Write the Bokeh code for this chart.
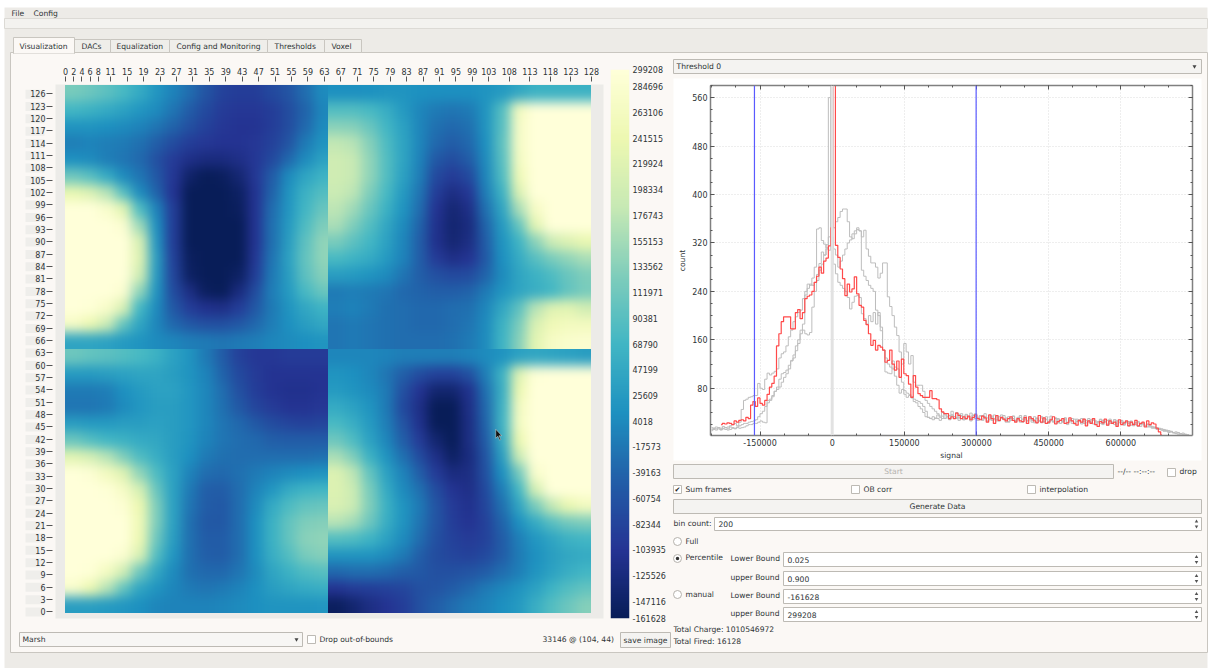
import numpy as np
from bokeh.core.properties import value
from bokeh.embed import file_html
from bokeh.layouts import column
from bokeh.models import (FixedTicker, LinearAxis, LinearColorMapper, NumeralTickFormatter,
                          SingleIntervalTicker, Span)
from bokeh.palettes import YlGnBu
from bokeh.plotting import figure
from bokeh.resources import INLINE

FONT = "DejaVu Sans"
BG_OUT = "#edebe7"
BG_PANEL = "#fbf8f5"
TXT = "#2e3436"
ALIGN = 40  # every plot keeps this left inset, so all frames line up the same way

# ---- data ------------------------------------------------------------------
LOWER = -161628
UPPER = 299208
COLORBAR_TICKS = [299208, 284696, 263106, 241515, 219924, 198334, 176743, 155153, 133562,
                  111971, 90381, 68790, 47199, 25609, 4018, -17573, -39163, -60754, -82344,
                  -103935, -125526, -147116, -161628]
X_TICKS = [0, 2, 4, 6, 8, 11, 15, 19, 23, 27, 31, 35, 39, 43, 47, 51, 55, 59, 63, 67, 71, 75, 79,
           83, 87, 91, 95, 99, 103, 108, 113, 118, 123, 128]
Y_TICKS = list(range(0, 127, 3))

# thousands of counts, rows listed from the top of each quadrant
Q_TL = [
 [120,110,95,75,50,20,-5,-30,-60,-85,-90,-90,-75,-60,-30,5],
 [70,60,50,35,20,5,-20,-50,-75,-95,-100,-100,-90,-70,-40,0],
 [15,15,10,5,-5,-20,-40,-65,-85,-100,-105,-105,-90,-70,-35,5],
 [-10,-5,-10,-15,-25,-45,-70,-90,-100,-105,-105,-100,-85,-60,-15,15],
 [10,5,-10,-20,-35,-65,-95,-115,-125,-125,-115,-100,-75,-35,5,35],
 [110,90,50,5,-20,-55,-100,-145,-160,-155,-135,-100,-50,5,40,65],
 [235,215,170,90,5,-40,-105,-160,-162,-162,-150,-105,-40,15,60,85],
 [305,300,280,225,80,-5,-90,-160,-162,-162,-155,-105,-30,20,70,105],
 [310,310,305,285,150,10,-90,-160,-162,-162,-160,-105,-25,25,80,125],
 [310,310,310,300,210,20,-90,-160,-162,-162,-160,-105,-25,30,95,140],
 [310,310,310,305,220,30,-85,-155,-162,-162,-160,-100,-20,35,100,140],
 [310,310,310,300,200,25,-80,-150,-162,-162,-150,-90,-15,30,95,130],
 [310,310,305,285,140,15,-70,-120,-155,-160,-125,-70,-10,25,75,105],
 [300,295,275,210,70,5,-55,-90,-110,-115,-90,-55,-15,15,45,65],
 [270,240,190,100,40,0,-35,-55,-65,-65,-55,-35,-10,10,30,45],
 [40,40,35,25,15,5,0,-10,-15,-20,-15,-10,0,5,10,15],
]
Q_TR = [
 [10,10,12,15,15,12,10,10,10,15,25,45,60,60,60,60],
 [85,85,75,55,25,0,-15,-20,-15,15,85,260,300,310,310,310],
 [135,130,105,70,35,0,-25,-35,-25,15,90,270,310,310,310,310],
 [180,170,130,80,40,0,-35,-50,-35,10,95,270,310,310,310,310],
 [195,185,140,85,40,-5,-55,-70,-50,5,90,265,310,310,310,310],
 [195,185,140,85,35,-10,-75,-95,-75,0,80,250,310,310,310,310],
 [190,175,125,75,25,-20,-90,-120,-100,-10,60,215,305,310,310,310],
 [175,150,105,60,15,-30,-105,-135,-115,-25,40,160,270,310,310,310],
 [160,125,85,45,5,-40,-110,-140,-125,-40,25,100,225,305,310,310],
 [120,95,70,35,0,-45,-110,-135,-120,-50,15,65,135,190,215,235],
 [75,65,50,25,-5,-45,-95,-115,-105,-55,10,50,90,120,140,160],
 [30,25,15,5,-20,-45,-65,-75,-70,-40,5,40,60,80,105,125],
 [-15,-10,-15,-20,-35,-40,-45,-45,-40,-15,15,40,55,70,100,120],
 [-10,-5,-15,-25,-30,-35,-35,-30,-25,0,45,95,170,220,225,200],
 [-20,-15,-20,-25,-30,-35,-35,-30,-20,5,60,120,210,250,260,260],
 [-20,-15,-20,-25,-30,-30,-30,-25,-15,5,65,130,225,270,280,285],
]
Q_BL = [
 [110,100,95,85,75,60,35,15,-15,-50,-85,-100,-100,-95,-95,-95],
 [25,25,30,35,40,40,30,15,-5,-40,-75,-95,-105,-105,-105,-105],
 [-15,-15,-10,10,25,35,35,20,0,-30,-65,-90,-105,-110,-110,-105],
 [-20,-20,-15,5,20,30,30,20,0,-25,-55,-80,-95,-105,-105,-100],
 [30,25,25,30,30,35,30,20,0,-20,-35,-55,-70,-80,-85,-80],
 [105,85,70,60,50,45,30,15,-5,-20,-30,-35,-45,-50,-50,-50],
 [225,205,170,125,80,55,30,10,-15,-25,-30,-30,-30,-30,-30,-25],
 [305,290,260,220,140,80,35,-5,-30,-35,-25,-15,-5,5,10,15],
 [310,310,295,270,205,105,35,-15,-45,-50,-30,-5,20,50,65,70],
 [310,310,305,290,240,125,35,-20,-50,-55,-30,5,50,80,100,105],
 [310,310,310,300,250,125,35,-25,-55,-55,-30,10,60,100,125,130],
 [310,310,310,300,245,110,30,-25,-50,-50,-30,10,60,100,135,140],
 [310,310,305,285,210,85,20,-25,-45,-50,-30,10,55,85,120,130],
 [305,295,265,200,110,45,5,-25,-35,-35,-20,5,40,60,80,90],
 [280,240,170,100,40,15,0,-15,-20,-15,-5,10,30,40,50,55],
 [30,30,25,20,10,0,-5,-5,-5,0,5,10,15,15,15,20],
]
Q_BR = [
 [0,0,0,-5,-10,-10,-10,-10,-5,5,15,35,45,40,35,30],
 [15,10,0,-20,-45,-70,-85,-85,-65,-10,60,220,295,310,310,310],
 [25,15,5,-15,-65,-105,-140,-140,-110,-25,55,240,310,310,310,310],
 [50,35,15,-15,-75,-115,-160,-160,-115,-35,60,260,310,310,310,310],
 [75,55,25,-10,-60,-110,-160,-162,-120,-40,65,265,310,310,310,310],
 [110,80,35,0,-45,-95,-140,-160,-120,-50,50,240,310,310,310,310],
 [160,125,60,15,-25,-70,-115,-150,-125,-60,30,190,310,310,310,310],
 [215,175,100,35,-5,-45,-95,-125,-120,-65,10,115,280,310,310,310],
 [215,190,120,50,5,-25,-70,-105,-115,-75,-10,70,205,300,310,310],
 [210,190,125,60,15,-15,-60,-95,-110,-80,-25,40,120,180,235,260],
 [170,155,110,55,15,-20,-60,-90,-105,-85,-40,10,50,90,115,125],
 [85,80,65,35,5,-30,-65,-85,-95,-85,-50,-10,20,40,60,70],
 [15,15,15,5,-15,-45,-70,-80,-85,-75,-50,-15,10,30,45,50],
 [-35,-30,-30,-35,-45,-55,-65,-65,-60,-50,-30,-10,15,35,55,70],
 [-105,-95,-90,-85,-80,-65,-60,-50,-35,-15,0,15,35,65,85,100],
 [-155,-140,-120,-105,-90,-65,-45,-30,-15,-5,10,25,55,85,110,130],
]

BIN_LEFT = -253000
BIN_WIDTH = 4900
RED_FIRST_BIN = 4
RED = [20,22,21,23,22,20,26,24,27,28,26,32,30,52,58,50,64,55,52,60,70,82,88,100,150,170,190,198,198,198,
       178,178,205,210,195,205,228,232,234,240,255,265,280,270,290,295,315,345,600,
       316,296,277,261,233,252,239,244,264,236,217,214,192,185,170,151,159,143,151,148,143,123,126,143,120,
       110,125,98,128,104,101,87,65,101,82,71,68,65,65,65,76,63,63,61,46,41,38,38,30,33,30,39,35,30,
       33,30,34,28,32,36,30,28,34,31,24,36,30,22,35,27,32,29,26,30,33,27,24,30,26,25,32,22,33,30,26,23,35,24,
       31,22,24,28,33,21,25,27,30,22,23,31,26,22,19,27,24,29,18,26,22,30,20,17,25,23,29,19,26,22,24,17,28,20,
       23,26,18,24,20,27,18,22,24,16,26,20,23,21,14,8,3]
GRAY_A = [15,14,16,15,14,17,15,16,18,20,22,18,24,45,60,62,65,66,68,68,88,80,78,95,105,102,105,108,112,130,
          137,140,150,165,176,190,198,205,209,228,240,252,250,262,280,343,345,324,318,312,308,600,
          285,269,255,250,245,240,230,211,222,232,233,230,203,195,186,200,190,205,186,205,175,143,107,105,
          104,125,100,85,72,78,70,65,68,64,62,60,58,55,50,42,32,30,33,30,
          36,32,30,38,34,29,36,33,40,31,35,28,37,33,30,36,38,31,29,35,33,27,34,31,28,33,26,30,35,29,
          24,31,34,27,29,32,25,30,27,33,24,28,31,26,23,29,33,25,27,24,30,28,22,26,31,24,27,22,29,25,
          28,21,26,24,30,23,27,20,25,28,22,26,21,29,24,20,26,23,27,19,24,22,26,18,23,25,20,22,17,21,
          18,15,16,13,14,11,12,9,10,8,7,8,6,5,6,4,3,2]
GRAY_B = [12,14,13,15,12,14,15,13,16,15,14,16,18,20,22,22,24,25,26,28,33,38,42,50,60,62,68,75,82,95,
          104,106,110,118,125,130,142,154,170,186,234,245,252,250,255,268,286,305,300,310,560,330,
          310,300,280,290,300,310,320,325,335,340,342,340,275,265,258,250,245,240,209,200,181,143,130,120,
          115,112,115,112,98,90,76,72,70,66,58,56,50,46,40,33,32,30,28,31,
          30,27,34,30,33,28,36,30,32,27,38,31,29,33,26,35,30,27,34,29,32,25,31,27,36,28,26,32,29,24,
          33,27,30,25,28,35,24,29,26,31,27,23,30,26,33,24,28,22,29,25,31,23,27,24,28,20,26,30,22,25,
          27,23,29,21,26,24,28,20,25,22,27,24,19,26,23,28,21,24,26,20,23,25,19,22,24,17,21,23,18,20,
          16,17,14,15,12,13,10,11,8,9,7,6,7,5,4,4,3,1]
GRAY_C = [10,12,11,13,11,13,12,11,12,14,13,15,14,15,16,18,20,20,22,22,24,26,24,23,56,60,66,75,78,82,
          90,98,104,112,126,135,150,160,176,176,170,168,172,214,240,258,275,285,300,317,330,341,
          345,355,362,372,376,376,355,330,327,335,345,340,330,341,310,298,287,287,280,262,270,287,287,231,
          215,200,181,167,140,120,154,140,120,134,90,85,85,85,75,60,55,50,46,42,
          38,34,40,36,31,35,42,33,30,37,34,28,36,32,39,29,33,30,35,27,38,31,28,34,30,26,33,36,28,31,
          25,30,34,27,32,24,29,35,26,30,28,33,23,27,31,25,29,24,34,26,22,30,27,25,31,23,28,26,21,29,
          25,30,22,27,24,28,21,26,23,29,20,25,27,22,24,28,19,26,23,21,25,18,24,22,20,23,17,21,19,16,
          18,14,15,12,13,11,9,10,7,8,6,5,4,3,3,2,1]

MENU_ITEMS = ["File", "Config"]
TABS = ["Visualization", "DACs", "Equalization", "Config and Monitoring", "Thresholds", "Voxel"]

# ---- palette ---------------------------------------------------------------
palette9 = YlGnBu[9]
rgb = np.array([[int(c[i:i + 2], 16) for i in (1, 3, 5)] for c in palette9], float)
pos = np.linspace(0, 1, 9)
fine = np.linspace(0, 1, 256)
palette = ["#%02x%02x%02x" % tuple(int(round(np.interp(f, pos, rgb[:, k]))) for k in range(3)) for f in fine]
mapper = LinearColorMapper(palette=palette, low=LOWER, high=UPPER)


def place(fig, frame_left, top, extra=None):
    st = {"position": "absolute", "left": f"{frame_left - ALIGN}px", "top": f"{top}px", "flex": "none"}
    st.update(extra or {})
    fig.styles = st
    fig.margin = (0, 0, 0, 0)
    return fig


# ---- chrome ----------------------------------------------------------------
chrome = figure(frame_width=1211, frame_height=668, x_range=(0, 1211), y_range=(668, 0), toolbar_location=None,
                output_backend="svg", min_border=0, min_border_left=0, min_border_right=0,
                min_border_top=0, min_border_bottom=0, outline_line_color=None,
                x_axis_location=None, y_axis_location=None,
                background_fill_color="white", border_fill_color="white")
chrome.grid.visible = False
chrome.styles = {"position": "absolute", "left": "0px", "top": "0px", "flex": "none"}
chrome.margin = (0, 0, 0, 0)


def box(x0, y0, x1, y1, fill="#f6f5f3", line="#c4c1bb"):
    chrome.quad(left=[x0], right=[x1], top=[y0], bottom=[y1], fill_color=fill,
                line_color=line, line_width=1)


def label(x, y, s, size="7.6px", color=TXT, align="left"):
    chrome.text(x=[x], y=[y], text=[s], text_font=value(FONT), text_font_size=size,
                text_color=color, text_align=align, text_baseline="middle")


def button(x0, y0, x1, y1, s=None, color=TXT):
    box(x0, y0, x1, y1, "#f4f3f1", "#bdbab4")
    if s:
        label((x0 + x1) / 2, (y0 + y1) / 2, s, color=color, align="center")


def checkbox(x, y, checked=False):
    box(x, y - 4, x + 8, y + 4, "#ffffff", "#bdbab4")
    if checked:
        label(x + 4, y, "✔", size="7px", align="center", color="#222222")


def radio(x, y, selected=False):
    chrome.scatter([x], [y], size=8, marker="circle", fill_color="#ffffff", line_color="#b5b2ac")
    if selected:
        chrome.scatter([x], [y], size=3.5, marker="circle", fill_color="#333333", line_color=None)


def arrow(x, y):
    chrome.scatter([x], [y], size=4, marker="inverted_triangle", fill_color="#444444", line_color=None)


def spin(x0, y0, x1, y1, s):
    box(x0, y0, x1, y1, "#ffffff", "#bdbab4")
    label(x0 + 4, (y0 + y1) / 2, s)
    chrome.scatter([x1 - 5], [(y0 + y1) / 2 - 2.5], size=3.5, marker="triangle", fill_color="#555555", line_color=None)
    chrome.scatter([x1 - 5], [(y0 + y1) / 2 + 2.5], size=3.5, marker="inverted_triangle", fill_color="#555555", line_color=None)


box(4, 7, 1207, 668, BG_OUT, None)
box(4, 18, 1207, 28, "#f3f2ef", "#dcdad5")
label(11, 12.5, MENU_ITEMS[0])
label(33, 12.5, MENU_ITEMS[1])
box(10, 52, 1207, 652, BG_PANEL, "#c9c6c0")

tab_edges = [74, 110, 169, 267, 324, 361]
for i in range(1, 6):
    box(tab_edges[i - 1], 39, tab_edges[i], 52, "#efeeea", "#c9c6c0")
box(13, 37, 74, 53, BG_PANEL, "#c9c6c0")
chrome.segment([13.5], [52], [73.5], [52], line_color=BG_PANEL, line_width=2)
tab_left = [19, 81, 116, 176, 274, 331]
for s, x in zip(TABS, tab_left):
    label(x, 45.5, s)

# grey frames behind the image and its tick labels
box(55, 84, 603, 618, "#ecebe8", None)
for t in Y_TICKS:
    yc = 611.5 - t * 4.11
    box(25, yc - 4.5, 44, yc + 4.5, "#efeeeb", None)

# bottom left row
box(19, 632, 302, 646, "#f7f6f4", "#bdbab4")
label(22, 639, "Marsh")
arrow(296, 639)
checkbox(307, 639)
label(319, 639, "Drop out-of-bounds")
label(542, 639, "33146 @ (104, 44)")
button(620, 632, 670, 647, "save image")

# right column
box(673, 59, 1201, 73, "#f4f3f1", "#bdbab4")
label(676, 66, "Threshold 0")
arrow(1194, 66)
box(673, 78, 1201, 460, "#ffffff", None)
button(673, 464, 1113, 478, "Start", color="#b4b2ae")
label(1117, 471, "--/-- --:--:--")
checkbox(1167, 472)
label(1179, 471, "drop")
checkbox(673, 489, True)
label(685, 489, "Sum frames")
checkbox(851, 489)
label(863, 489, "OB corr")
checkbox(1027, 489)
label(1039, 489, "interpolation")
button(673, 499, 1201, 513, "Generate Data")
label(673, 523, "bin count:")
spin(714, 517, 1201, 530, "200")
radio(677, 541)
label(685, 541, "Full")
radio(677, 558, True)
label(685, 557, "Percentile")
label(730, 558, "Lower Bound")
spin(783, 552, 1201, 566, "0.025")
label(730, 577, "upper Bound")
spin(783, 571, 1201, 585, "0.900")
radio(677, 594)
label(685, 594, "manual")
label(730, 595, "Lower Bound")
spin(783, 589, 1201, 603, str(LOWER))
label(730, 613, "upper Bound")
spin(783, 607, 1201, 621, str(UPPER))
label(673, 629, "Total Charge: 1010546972")
label(673, 641, "Total Fired: 16128")

# ---- heat map quadrants ----------------------------------------------------
# one picture per quadrant, softened by the browser and clipped, so the seams stay sharp.
CELL_PX = 16.5
PAD_CELLS = 2
PAD_PX = PAD_CELLS * CELL_PX
FRAME_PX = int(round((16 + 2 * PAD_CELLS) * CELL_PX))
BLUR_PX = 6


def quadrant(values, clip_left, clip_top, clip_w, clip_h):
    arr = np.pad(np.array(values, dtype=float)[::-1] * 1000, PAD_CELLS, mode="edge")
    q = figure(frame_width=FRAME_PX, frame_height=FRAME_PX, x_range=(0, arr.shape[1]), y_range=(0, arr.shape[0]),
               toolbar_location=None, output_backend="svg", x_axis_location=None, y_axis_location=None,
               min_border_left=ALIGN, min_border_right=0, min_border_top=0, min_border_bottom=0,
               outline_line_color=None, background_fill_color=None, border_fill_color=None)
    q.grid.visible = False
    q.image(image=[arr], x=0, y=0, dw=arr.shape[1], dh=arr.shape[0], color_mapper=mapper)
    x0 = ALIGN + PAD_PX
    x1 = x0 + clip_w
    y0 = PAD_PX
    y1 = y0 + clip_h
    clip = f"polygon({x0}px {y0}px, {x1}px {y0}px, {x1}px {y1}px, {x0}px {y1}px)"
    return place(q, clip_left - PAD_PX, clip_top - PAD_PX,
                 {"filter": f"blur({BLUR_PX}px)", "clip-path": clip})


quadrants = [quadrant(Q_TL, 65, 85, 263, 264), quadrant(Q_TR, 328, 85, 263, 264),
             quadrant(Q_BL, 65, 349, 263, 264), quadrant(Q_BR, 328, 349, 263, 264)]

# ---- heat map axes ---------------------------------------------------------
heat = figure(frame_width=526, frame_height=528, x_range=(0, 128), y_range=(-0.4, 128), toolbar_location=None,
              output_backend="svg", x_axis_location="above", min_border_left=ALIGN, min_border_right=12,
              min_border_top=23, min_border_bottom=5, outline_line_color=None,
              background_fill_color=None, border_fill_color=None)
heat.grid.visible = False
ax = heat.above[0]
ax.ticker = FixedTicker(ticks=X_TICKS)
ax.minor_tick_line_color = None
ax.axis_line_color = None
ax.major_tick_in = -4
ax.major_tick_out = 9
ax.major_tick_line_color = "#555555"
ax.major_label_standoff = 2
ax.major_label_text_font = FONT
ax.major_label_text_font_size = "8px"
ax.major_label_text_color = TXT
ax = heat.left[0]
ax.ticker = FixedTicker(ticks=Y_TICKS)
ax.minor_tick_line_color = None
ax.axis_line_color = None
ax.major_tick_in = -13
ax.major_tick_out = 19
ax.major_tick_line_color = "#555555"
ax.major_label_standoff = 1
ax.major_label_text_font = FONT
ax.major_label_text_font_size = "8px"
ax.major_label_text_color = TXT
# mouse pointer, at the hovered cell named in the status text
HOVER_X, HOVER_Y = 104.7, 44.4
u = 1 / 4.11
heat.patch([HOVER_X, HOVER_X, HOVER_X + 2 * u, HOVER_X + 4 * u, HOVER_X + 5 * u, HOVER_X + 3.2 * u, HOVER_X + 6 * u],
           [HOVER_Y, HOVER_Y - 9 * u, HOVER_Y - 7 * u, HOVER_Y - 11 * u, HOVER_Y - 10 * u, HOVER_Y - 6.5 * u, HOVER_Y - 6.5 * u],
           fill_color="#111111", line_color="#dddddd", line_width=0.5)

# ---- colour bar ------------------------------------------------------------
cbar = figure(frame_width=19, frame_height=549, x_range=(0, 1), y_range=(LOWER, UPPER), toolbar_location=None,
              output_backend="svg", y_axis_location="right", x_axis_location=None,
              min_border_left=ALIGN, min_border_right=45, min_border_top=9, min_border_bottom=10,
              outline_line_color=None, background_fill_color=None, border_fill_color=None)
cbar.grid.visible = False
cbar.image(image=[np.array(np.linspace(LOWER, UPPER, 256))[:, None]], x=0, y=LOWER, dw=1, dh=UPPER - LOWER,
           color_mapper=mapper)
ax = cbar.right[0]
ax.ticker = FixedTicker(ticks=COLORBAR_TICKS)
ax.formatter = NumeralTickFormatter(format="0")
ax.axis_line_color = None
ax.minor_tick_line_color = None
ax.major_tick_line_color = None
ax.major_tick_out = 0
ax.major_tick_in = 0
ax.major_label_standoff = 3
ax.major_label_text_font = FONT
ax.major_label_text_font_size = "8px"
ax.major_label_text_color = TXT

# ---- histogram -------------------------------------------------------------
hist = figure(frame_width=482, frame_height=350, x_range=(-253000, 749000), y_range=(2, 580), toolbar_location=None,
              output_backend="svg", min_border_left=ALIGN, min_border_right=9, min_border_top=7,
              min_border_bottom=25, outline_line_color=None, background_fill_color="white",
              border_fill_color=None)
x_major = SingleIntervalTicker(interval=150000, num_minor_ticks=3)
y_major = SingleIntervalTicker(interval=80, num_minor_ticks=4)
hist.xaxis.ticker = x_major
hist.yaxis.ticker = y_major
hist.xaxis.axis_label = "signal"
hist.yaxis.axis_label = "count"
hist.xaxis[0].formatter = NumeralTickFormatter(format="0")
hist.yaxis[0].formatter = NumeralTickFormatter(format="0")
hist.xgrid.ticker = x_major
hist.ygrid.ticker = y_major
hist.grid.grid_line_color = "#dcdcdc"
hist.grid.grid_line_dash = "1 2"
for name, tick in [("above", x_major), ("right", y_major)]:
    hist.add_layout(LinearAxis(ticker=tick), name)
for ax in [hist.above[0], hist.right[0], hist.below[0], hist.left[0]]:
    ax.axis_line_color = "#808080"
    ax.axis_line_width = 1.5
    ax.major_tick_in = 4
    ax.major_tick_out = 0
    ax.minor_tick_in = 2
    ax.minor_tick_out = 0
    ax.major_tick_line_color = "#555555"
    ax.minor_tick_line_color = "#555555"
    ax.major_label_standoff = 3
    ax.major_label_text_font = FONT
    ax.major_label_text_font_size = "8px"
    ax.major_label_text_color = TXT
    ax.axis_label_text_font = FONT
    ax.axis_label_text_font_size = "7.6px"
    ax.axis_label_text_font_style = "normal"
    ax.axis_label_text_color = TXT
    ax.axis_label_standoff = 2
for ax in [hist.above[0], hist.right[0]]:
    ax.major_label_overrides = {t: "" for t in list(range(-150000, 750001, 150000)) + list(range(0, 581, 80))}
    ax.major_label_standoff = 0
    ax.major_label_text_font_size = "0px"
hist.add_layout(Span(location=0, dimension="height", line_color="#e2e2e2", line_width=3))
for series in (GRAY_A, GRAY_B, GRAY_C):
    xs = BIN_LEFT + (np.arange(len(series)) + 0.5) * BIN_WIDTH
    hist.step(xs, series, mode="center", line_color="#bdbdbd", line_width=1)
xs = BIN_LEFT + (np.arange(len(RED)) + RED_FIRST_BIN + 0.5) * BIN_WIDTH
hist.step(xs, RED, mode="center", line_color="#ff4a4a", line_width=1.2)
for loc in (LOWER, UPPER):
    hist.add_layout(Span(location=loc, dimension="height", line_color="#5a5aff", line_width=1.2))

inner = column(*quadrants, place(heat, 65, 62), place(cbar, 610, 60), place(hist, 710, 78),
               width=1211, height=668, margin=(0, 0, 0, 0),
               styles={"position": "absolute", "left": "0px", "top": "0px"})
root = column(chrome, inner, width=1211, height=668, margin=(0, 0, 0, 0),
              styles={"position": "absolute", "left": "0px", "top": "0px", "overflow": "hidden"})
open("out.html", "w").write(file_html(root, INLINE))
